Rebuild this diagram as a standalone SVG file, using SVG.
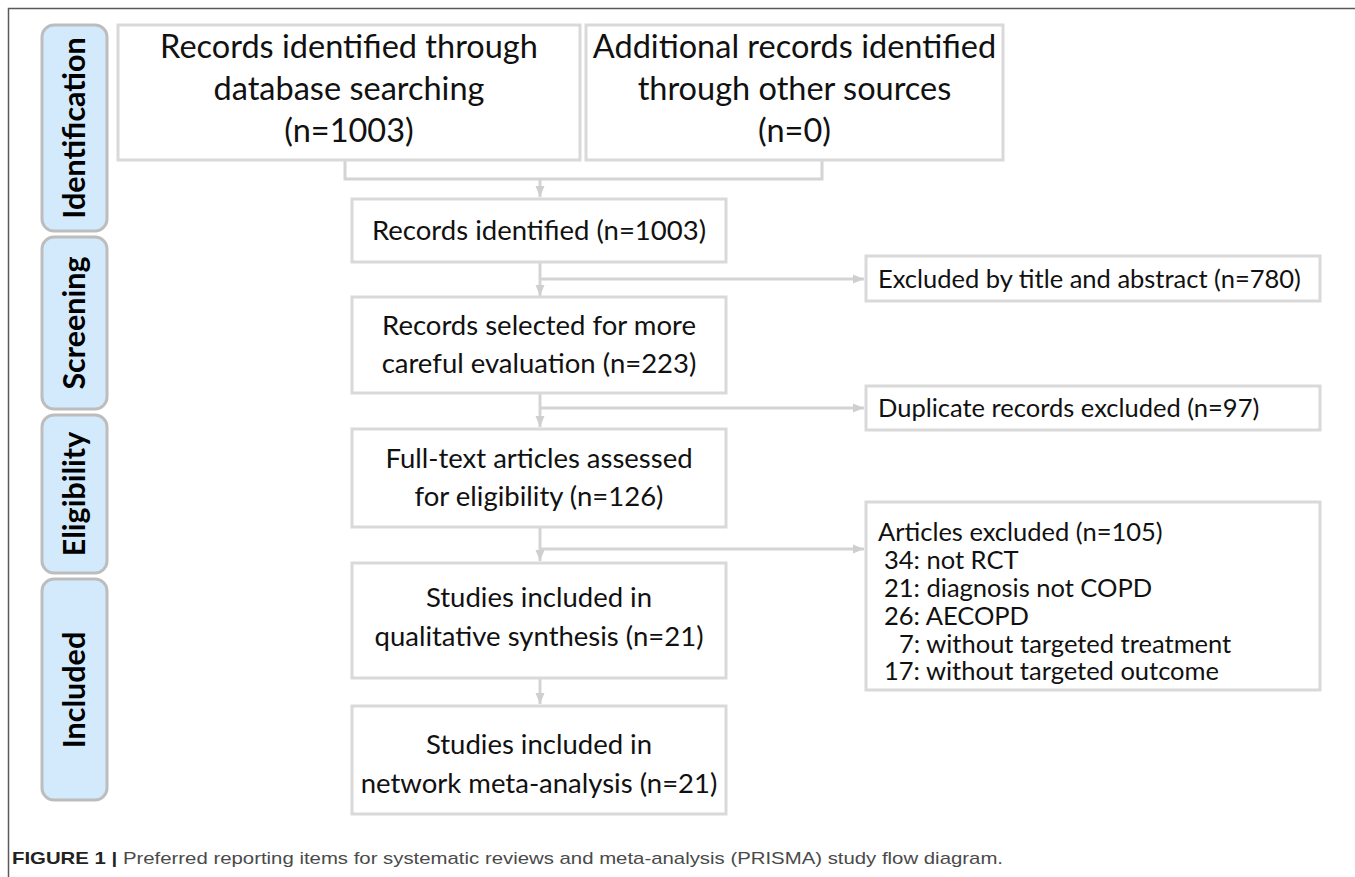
<svg xmlns="http://www.w3.org/2000/svg" width="1355" height="877" viewBox="0 0 1355 877">
  <defs>
    <style>
      .frame { stroke: #5a5a5a; stroke-width: 1.5; fill: none; }
      .tab { fill: #d3eafc; stroke: #bdbdbd; stroke-width: 3; }
      .tab-label { font-family: Lato, "Open Sans", sans-serif; font-weight: 700; font-size: 30.5px; fill: #000; text-anchor: middle; }
      .box { fill: #ffffff; stroke: #d9d9d9; stroke-width: 3; }
      .main { font-family: Lato, "Open Sans", sans-serif; font-size: 27.5px; fill: #111; text-anchor: middle; }
      .big { font-size: 32.5px; }
      .side { font-family: Lato, "Open Sans", sans-serif; font-size: 25.5px; fill: #111; }
      .conn { fill: none; stroke: #d4d4d4; stroke-width: 3; }
      .caption { font-family: "Liberation Sans", Arial, sans-serif; font-size: 17px; fill: #4a4a4a; }
      .caption-bold { font-weight: 700; fill: #222; }
    </style>
    <marker id="arrow" markerUnits="userSpaceOnUse" markerWidth="12" markerHeight="12" viewBox="0 0 12 12" refX="11" refY="6" orient="auto">
      <path d="M0,1.5 L11,6 L0,10.5 Z" fill="#cfcfcf"/>
    </marker>
  </defs>

  <!-- figure frame -->
  <path class="frame" d="M8.5,877 V8.5 H1355"/>

  <!-- phase tabs -->
  <g id="tab-identification">
    <rect class="tab" x="42" y="25" width="65" height="206" rx="12"/>
    <text class="tab-label" transform="translate(85,128) rotate(-90)">Identification</text>
  </g>
  <g id="tab-screening">
    <rect class="tab" x="42" y="237" width="65" height="172" rx="12"/>
    <text class="tab-label" transform="translate(85,323) rotate(-90)">Screening</text>
  </g>
  <g id="tab-eligibility">
    <rect class="tab" x="42" y="415" width="65" height="158" rx="12"/>
    <text class="tab-label" transform="translate(85,494) rotate(-90)">Eligibility</text>
  </g>
  <g id="tab-included">
    <rect class="tab" x="42" y="579" width="65" height="221" rx="12"/>
    <text class="tab-label" transform="translate(85,690) rotate(-90)">Included</text>
  </g>

  <!-- connectors -->
  <g id="connectors">
    <path class="conn" d="M345,160 V179 H822 V160"/>
    <path class="conn" d="M540,179 V197" marker-end="url(#arrow)"/>
    <path class="conn" d="M540,262 V296" marker-end="url(#arrow)"/>
    <path class="conn" d="M540,279 H864" marker-end="url(#arrow)"/>
    <path class="conn" d="M540,393 V427" marker-end="url(#arrow)"/>
    <path class="conn" d="M540,408 H864" marker-end="url(#arrow)"/>
    <path class="conn" d="M540,527 V561" marker-end="url(#arrow)"/>
    <path class="conn" d="M540,549 H864" marker-end="url(#arrow)"/>
    <path class="conn" d="M540,678 V704" marker-end="url(#arrow)"/>
  </g>

  <g id="database-records">
    <rect class="box" x="118" y="25" width="462" height="135"/>
    <text class="main big" x="349" y="58">Records identified through</text>
    <text class="main big" x="349" y="100">database searching</text>
    <text class="main big" x="349" y="142">(n=1003)</text>
  </g>

  <g id="other-records">
    <rect class="box" x="586" y="25" width="417" height="135"/>
    <text class="main big" x="794.5" y="58">Additional records identified</text>
    <text class="main big" x="794.5" y="100">through other sources</text>
    <text class="main big" x="794.5" y="142">(n=0)</text>
  </g>

  <g id="records-identified">
    <rect class="box" x="352" y="199" width="374" height="63"/>
    <text class="main" x="539" y="240">Records identified (n=1003)</text>
  </g>

  <g id="excluded-title-abstract">
    <rect class="box" x="866" y="256" width="454" height="45"/>
    <text class="side" x="878" y="288">Excluded by title and abstract (n=780)</text>
  </g>

  <g id="records-selected">
    <rect class="box" x="352" y="297" width="374" height="96"/>
    <text class="main" x="539" y="335">Records selected for more</text>
    <text class="main" x="539" y="373">careful evaluation (n=223)</text>
  </g>

  <g id="duplicates-excluded">
    <rect class="box" x="866" y="386" width="454" height="44"/>
    <text class="side" x="878" y="417">Duplicate records excluded (n=97)</text>
  </g>

  <g id="full-text-assessed">
    <rect class="box" x="352" y="429" width="374" height="98"/>
    <text class="main" x="539" y="468">Full-text articles assessed</text>
    <text class="main" x="539" y="506">for eligibility (n=126)</text>
  </g>

  <g id="articles-excluded">
    <rect class="box" x="866" y="502" width="454" height="188"/>
    <text class="side" x="878" y="541">Articles excluded (n=105)</text>
    <text class="side" x="884" y="569">34: not RCT</text>
    <text class="side" x="884" y="597">21: diagnosis not COPD</text>
    <text class="side" x="884" y="625">26: AECOPD</text>
    <text class="side" x="899" y="653">7: without targeted treatment</text>
    <text class="side" x="884" y="680">17: without targeted outcome</text>
  </g>

  <g id="qualitative-synthesis">
    <rect class="box" x="352" y="563" width="374" height="115"/>
    <text class="main" x="539" y="607">Studies included in</text>
    <text class="main" x="539" y="646">qualitative synthesis (n=21)</text>
  </g>

  <g id="network-meta-analysis">
    <rect class="box" x="352" y="706" width="374" height="108"/>
    <text class="main" x="539" y="754">Studies included in</text>
    <text class="main" x="539" y="793">network meta-analysis (n=21)</text>
  </g>

  <!-- caption -->
  <text class="caption" x="12" y="864" textLength="991" lengthAdjust="spacingAndGlyphs"><tspan class="caption-bold">FIGURE 1 |</tspan> Preferred reporting items for systematic reviews and meta-analysis (PRISMA) study flow diagram.</text>
</svg>
